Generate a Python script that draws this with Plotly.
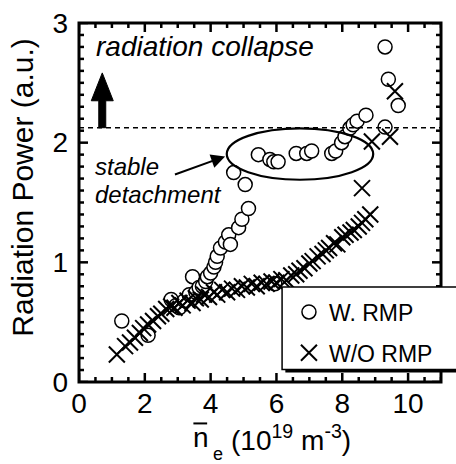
import numpy as np
import plotly.graph_objects as go

# ---- data ----
w_rmp_x = [1.30, 2.10, 2.80, 2.95, 3.05, 3.20, 3.35, 3.45, 3.55, 3.65, 3.75, 3.85,
           3.90, 4.00, 4.10, 4.15, 4.20, 4.30, 4.45, 4.55, 4.60, 4.85, 4.95, 5.15,
           5.05, 4.70, 5.95, 5.45, 5.80, 5.92, 6.05, 6.60, 6.92, 7.07, 7.68, 7.80,
           7.98, 8.08, 8.23, 8.33, 8.45, 8.72, 9.30, 9.30, 9.40, 9.70]
w_rmp_y = [0.51, 0.39, 0.69, 0.64, 0.62, 0.68, 0.73, 0.88, 0.75, 0.79, 0.80, 0.84,
           0.88, 0.91, 0.96, 1.00, 1.05, 1.12, 1.17, 1.23, 1.15, 1.29, 1.36, 1.45,
           1.65, 1.75, 0.82, 1.90, 1.86, 1.84, 1.84, 1.91, 1.91, 1.93, 1.91, 1.93,
           2.00, 2.05, 2.12, 2.15, 2.18, 2.23, 2.80, 2.13, 2.53, 2.31]

wo_rmp_x = [1.15, 1.40, 1.55, 1.70, 1.85, 1.95, 2.10, 2.25, 2.40, 2.50, 2.65, 2.80,
            2.90, 3.05, 3.15, 3.30, 3.45, 3.55, 3.70, 3.80, 3.95, 4.10, 4.20, 4.35,
            4.50, 4.65, 4.80, 4.95, 5.10, 5.25, 5.40, 5.55, 5.70, 5.85, 6.00, 6.15,
            6.30, 6.45, 6.60, 6.70, 6.85, 7.00, 7.10, 7.25, 7.40, 7.50, 7.60, 7.75,
            7.85, 8.00, 8.10, 8.25, 8.35, 8.50, 8.60, 8.70, 8.85, 8.60, 8.90, 9.45, 9.60]
wo_rmp_y = [0.23, 0.30, 0.33, 0.37, 0.41, 0.45, 0.48, 0.51, 0.55, 0.57, 0.61, 0.63,
            0.62, 0.66, 0.64, 0.68, 0.66, 0.70, 0.69, 0.73, 0.71, 0.75, 0.73, 0.77,
            0.75, 0.78, 0.77, 0.80, 0.79, 0.82, 0.80, 0.83, 0.82, 0.84, 0.83, 0.86,
            0.85, 0.89, 0.90, 0.93, 0.95, 0.99, 1.01, 1.05, 1.07, 1.10, 1.12, 1.16,
            1.15, 1.21, 1.23, 1.25, 1.27, 1.30, 1.33, 1.36, 1.40, 1.62, 2.01, 2.05, 2.43]

collapse_level = 2.125
x_range = [0, 11]
y_range = [0, 3]
x_major_ticks = [0, 2, 4, 6, 8, 10]
y_major_ticks = [0, 1, 2, 3]
x_minor_step = 0.5
y_minor_step = 0.1

FONT = "Liberation Sans, Arial, sans-serif"

fig = go.Figure()
fig.add_trace(go.Scatter(
    x=w_rmp_x, y=w_rmp_y, mode="markers", name="W. RMP", legendgroup="a",
    marker=dict(symbol="circle", size=14, color="white",
                line=dict(color="black", width=1.5))))
fig.add_trace(go.Scatter(
    x=wo_rmp_x, y=wo_rmp_y, mode="markers", name="W/O RMP", legendgroup="b",
    marker=dict(symbol="x-thin-open", size=16, color="black",
                line=dict(color="black", width=2))))

fig.update_layout(
    xaxis=dict(range=x_range, tickmode="array", tickvals=x_major_ticks,
               showline=False, ticks="", showgrid=False, zeroline=False,
               ticklabelstandoff=2,
               tickfont=dict(family=FONT, size=28, color="black")),
    yaxis=dict(range=y_range, tickmode="array", tickvals=y_major_ticks,
               showline=False, ticks="", showgrid=False, zeroline=False,
               ticklabelstandoff=10,
               tickfont=dict(family=FONT, size=28, color="black")),
)

shapes = []
TICK = dict(color="black", width=2.5)
# tick marks on all four sides (inside)
x_minor_ticks = [v for v in np.arange(x_range[0], x_range[1] + 1e-9, x_minor_step)
                 if not any(abs(v - m) < 1e-9 for m in x_major_ticks)]
y_minor_ticks = [v for v in np.arange(y_range[0], y_range[1] + 1e-9, y_minor_step)
                 if not any(abs(v - m) < 1e-9 for m in y_major_ticks)]
for vals, ln in ((x_major_ticks, 9), (x_minor_ticks, 5)):
    for v in vals:
        for anchor, sgn in ((0, 1), (1, -1)):
            shapes.append(dict(type="line", xref="x", yref="paper", ysizemode="pixel",
                               yanchor=anchor, x0=float(v), x1=float(v), y0=0, y1=sgn * ln,
                               line=TICK, layer="above"))
for vals, ln in ((y_major_ticks, 9), (y_minor_ticks, 5)):
    for v in vals:
        for anchor, sgn in ((0, 1), (1, -1)):
            shapes.append(dict(type="line", yref="y", xref="paper", xsizemode="pixel",
                               xanchor=anchor, y0=float(v), y1=float(v), x0=0, x1=sgn * ln,
                               line=TICK, layer="above"))
# plot frame
shapes.append(dict(type="rect", xref="paper", yref="paper", x0=0, x1=1, y0=0, y1=1,
                   line=dict(color="black", width=3), layer="above"))
# legend box shadow and box
shapes.append(dict(type="rect", xref="paper", yref="paper",
                   x0=0.570, x1=1.10, y0=0.0265, y1=0.2565,
                   fillcolor="black", line=dict(width=0), layer="above"))
shapes.append(dict(type="rect", xref="paper", yref="paper",
                   x0=0.561, x1=1.10, y0=0.035, y1=0.2645,
                   fillcolor="white", line=dict(color="black", width=1.5), layer="above"))
# dashed collapse threshold
shapes.append(dict(type="line", xref="x", yref="y", x0=x_range[0], x1=x_range[1],
                   y0=collapse_level, y1=collapse_level,
                   line=dict(color="black", width=1.5, dash="5px,4px"), layer="above"))
# ellipse
shapes.append(dict(type="circle", xref="x", yref="y", x0=4.49, x1=8.94,
                   y0=1.69, y1=2.12, line=dict(color="black", width=2.2), layer="above"))
# big up arrow
ax0 = 0.707
shapes.append(dict(type="path", xref="x", yref="y",
                   path=(f"M {ax0-0.106},{collapse_level} L {ax0-0.106},2.35 "
                         f"L {ax0-0.334},2.35 L {ax0},2.583 L {ax0+0.334},2.35 "
                         f"L {ax0+0.106},2.35 L {ax0+0.106},{collapse_level} Z"),
                   fillcolor="black", line=dict(color="black", width=1), layer="above"))
# overline of n
shapes.append(dict(type="line", xref="paper", yref="paper", x0=0.316, x1=0.354,
                   y0=-0.1154, y1=-0.1154, line=dict(color="black", width=2)))

annotations = [
    dict(x=0.45, y=2.80, xref="x", yref="y", text="<i>radiation collapse</i>",
         showarrow=False, xanchor="left", yanchor="middle",
         font=dict(family=FONT, size=28, color="black")),
    dict(x=0.42, y=1.80, xref="x", yref="y", text="<i>stable</i>",
         showarrow=False, xanchor="left", yanchor="middle",
         font=dict(family=FONT, size=24, color="black")),
    dict(x=0.42, y=1.565, xref="x", yref="y", text="<i>detachment</i>",
         showarrow=False, xanchor="left", yanchor="middle",
         font=dict(family=FONT, size=24, color="black")),
    dict(x=4.44, y=1.885, ax=2.87, ay=1.73, xref="x", yref="y", axref="x", ayref="y",
         text="", showarrow=True, arrowhead=2, arrowsize=1.4, arrowwidth=2,
         arrowcolor="black"),
    dict(x=-0.155, y=0.541, xref="paper", yref="paper", text="Radiation Power (a.u.)",
         textangle=-90, showarrow=False, xanchor="center", yanchor="middle",
         font=dict(family=FONT, size=30, color="black")),
    dict(x=0.338, y=-0.155, xref="paper", yref="paper", text="n",
         showarrow=False, xanchor="center", yanchor="middle",
         font=dict(family=FONT, size=28, color="black")),
    dict(x=0.385, y=-0.20, xref="paper", yref="paper", text="e",
         showarrow=False, xanchor="center", yanchor="middle",
         font=dict(family=FONT, size=18, color="black")),
    dict(x=0.413, y=-0.157, xref="paper", yref="paper",
         text="(10<sup>19</sup> m<sup>-3</sup>)",
         showarrow=False, xanchor="left", yanchor="middle",
         font=dict(family=FONT, size=28, color="black")),
]

fig.update_layout(
    width=456, height=464,
    margin=dict(l=79, r=15, t=23, b=82, autoexpand=False),
    paper_bgcolor="white", plot_bgcolor="white",
    showlegend=True,
    legend=dict(x=0.58, y=0.255, xanchor="left", yanchor="top",
                bgcolor="rgba(0,0,0,0)", borderwidth=0, tracegroupgap=8,
                font=dict(family=FONT, size=23, color="black"),
                itemsizing="trace"),
    shapes=shapes, annotations=annotations,
)

fig.write_html("out.html", config={"displayModeBar": False},
               post_script="document.body.style.margin='0';document.body.style.padding='0';")
